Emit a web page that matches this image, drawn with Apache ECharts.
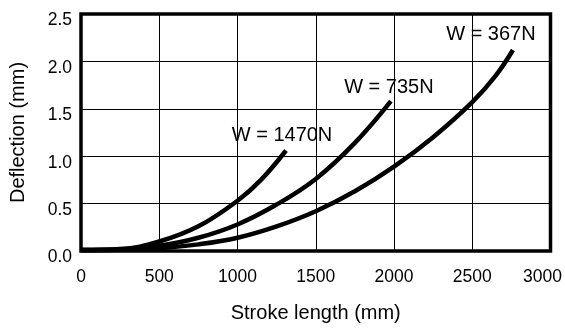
<!DOCTYPE html>
<html><head><meta charset="utf-8">
<script src="https://cdn.jsdelivr.net/npm/echarts@6/dist/echarts.min.js"></script>
<style>html,body{margin:0;padding:0;background:#fff}#c{width:565px;height:330px}</style>
</head><body><div id="c"></div>
<script>
// Data
const xAxisTitle = 'Stroke length (mm)';
const yAxisTitle = 'Deflection (mm)';
const seriesNames = ['W = 1470N', 'W = 735N', 'W = 367N'];

const strokeW1470 = [0, 250, 500, 750, 1000, 1150, 1310];
const deflW1470   = [0.01, 0.02, 0.1, 0.26, 0.53, 0.75, 1.06];

const strokeW735 = [0, 250, 500, 750, 1000, 1250, 1500, 1750, 1980];
const deflW735   = [0.01, 0.015, 0.055, 0.14, 0.28, 0.49, 0.76, 1.14, 1.58];

const strokeW367 = [0, 250, 500, 750, 1000, 1250, 1500, 1750, 2000, 2250, 2500, 2650, 2760];
const deflW367   = [0.01, 0.012, 0.03, 0.07, 0.14, 0.26, 0.42, 0.63, 0.89, 1.2, 1.57, 1.85, 2.12];

const xMin = 0, xMax = 3000, xStep = 500;
const yMin = 0, yMax = 2.5, yStep = 0.5;

const FONT = '"Liberation Sans", Arial, Helvetica, sans-serif';
const pairs = (xs, ys) => xs.map((x, i) => [x, ys[i]]);

const curves = [
  {name: seriesNames[0], xs: strokeW1470, ys: deflW1470, off: [-4, -15]},
  {name: seriesNames[1], xs: strokeW735, ys: deflW735, off: [-2, -14]},
  {name: seriesNames[2], xs: strokeW367, ys: deflW367, off: [-22, -16]}
];

const chart = echarts.init(document.getElementById('c'), null, {renderer: 'canvas'});
chart.setOption({
  animation: false,
  backgroundColor: '#fff',
  grid: {show: true, left: 80.5, right: 14.5, top: 14, bottom: 79,
         borderColor: '#000', borderWidth: 3.5, backgroundColor: 'transparent'},
  xAxis: {
    type: 'value', min: xMin, max: xMax, interval: xStep,
    name: xAxisTitle, nameLocation: 'middle', nameGap: 52,
    nameTextStyle: {fontFamily: FONT, fontSize: 20, color: '#000'},
    axisLine: {show: false}, axisTick: {show: false},
    axisLabel: {
      margin: 17, fontFamily: FONT, fontSize: 17.5, color: '#000',
      formatter: v => v === xMax ? '{s|' + v + '}' : String(v),
      rich: {s: {fontFamily: FONT, fontSize: 17.5, color: '#000', padding: [0, 16, 0, 0]}}
    },
    splitLine: {show: true, lineStyle: {color: '#000', width: 1}}
  },
  yAxis: {
    type: 'value', min: yMin, max: yMax, interval: yStep,
    name: yAxisTitle, nameLocation: 'middle', nameGap: 53,
    nameTextStyle: {fontFamily: FONT, fontSize: 20, color: '#000'},
    axisLine: {show: false}, axisTick: {show: false},
    axisLabel: {
      margin: 9, fontFamily: FONT, fontSize: 17.5, color: '#000',
      formatter: v => '{a|' + v.toFixed(1) + '}',
      rich: {a: {fontFamily: FONT, fontSize: 17.5, color: '#000', padding: [13, 0, 0, 0]}}
    },
    splitLine: {show: true, lineStyle: {color: '#000', width: 1}}
  },
  series: curves.map(c => {
    const d = pairs(c.xs, c.ys);
    const last = d[d.length - 1];
    return {
      type: 'line', name: c.name, data: d, smooth: 0.4, showSymbol: false,
      lineStyle: {color: '#000', width: 4.5},
      z: 3,
      markPoint: {
        symbol: 'circle', symbolSize: 0, silent: true,
        data: [{coord: last, label: {show: true, position: 'inside', offset: c.off,
          formatter: c.name, fontFamily: FONT, fontSize: 20, color: '#000',
          backgroundColor: 'transparent'}}]
      }
    };
  })
});
</script>
</body></html>
